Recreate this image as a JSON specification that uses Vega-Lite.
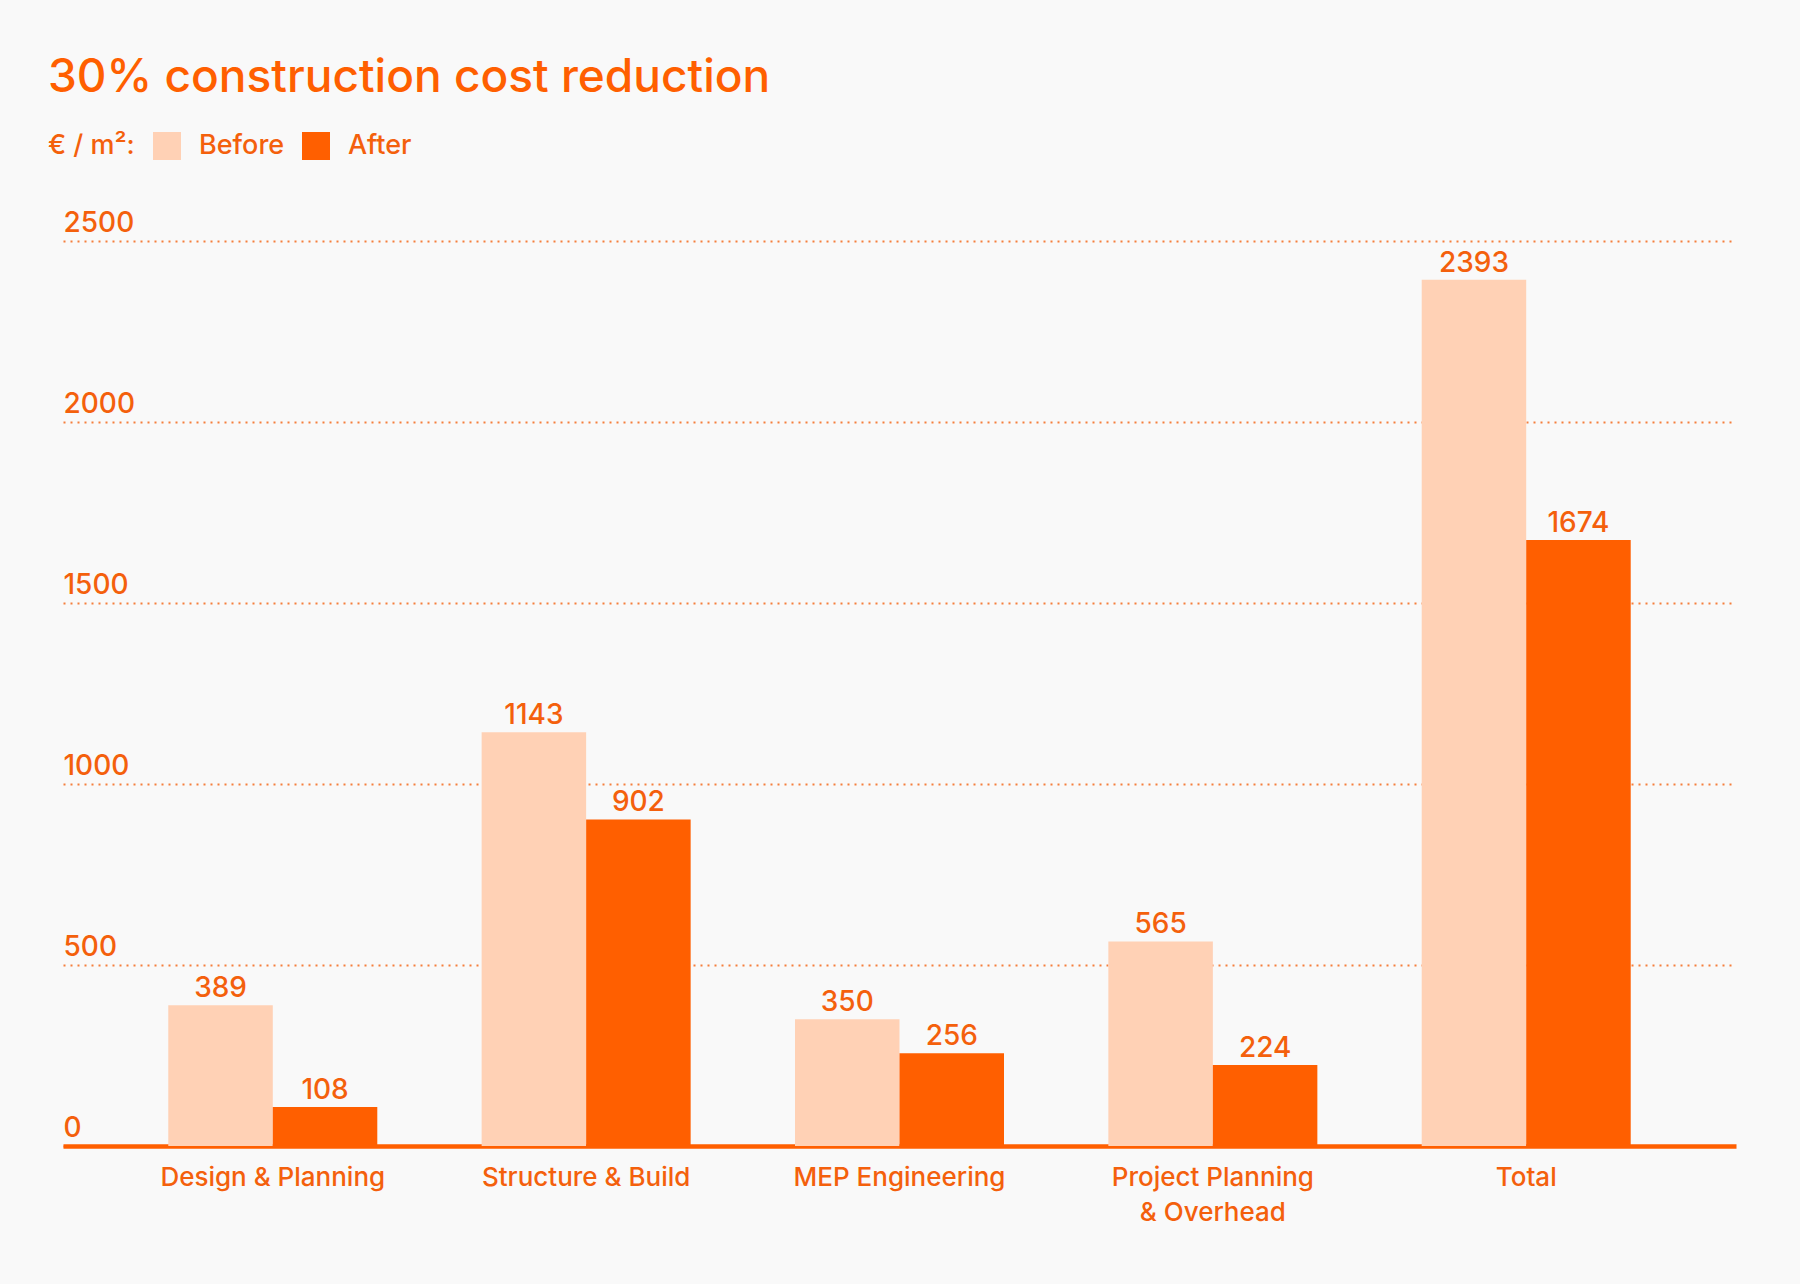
{
  "$schema": "https://vega.github.io/schema/vega-lite/v6.json",
  "width": 1673,
  "height": 905,
  "autosize": {"type": "none"},
  "padding": {"left": 63, "top": 241, "right": 64, "bottom": 138},
  "background": "#f9f9f9",
  "title": {
    "text": "30% construction cost reduction",
    "anchor": "start",
    "frame": "group",
    "font": "Inter",
    "fontSize": 46,
    "fontWeight": 500,
    "color": "#ff5f00",
    "dx": -15,
    "offset": 30
  },
  "config": {
    "view": {"stroke": null},
    "font": "Inter",
    "text": {"font": "Inter"}
  },
  "data": {
    "values": [
      {"category": "Design & Planning", "period": "Before", "value": 389},
      {"category": "Design & Planning", "period": "After", "value": 108},
      {"category": "Structure & Build", "period": "Before", "value": 1143},
      {"category": "Structure & Build", "period": "After", "value": 902},
      {"category": "MEP Engineering", "period": "Before", "value": 350},
      {"category": "MEP Engineering", "period": "After", "value": 256},
      {"category": "Project Planning & Overhead", "period": "Before", "value": 565},
      {"category": "Project Planning & Overhead", "period": "After", "value": 224},
      {"category": "Total", "period": "Before", "value": 2393},
      {"category": "Total", "period": "After", "value": 1674}
    ]
  },
  "encoding": {
    "x": {
      "field": "category",
      "type": "nominal",
      "sort": ["Design & Planning", "Structure & Build", "MEP Engineering", "Project Planning & Overhead", "Total"],
      "scale": {"paddingInner": 0.333, "paddingOuter": 0.336},
      "axis": {
        "title": null,
        "labelAngle": 0,
        "labelLimit": 0,
        "labelFont": "Inter",
        "labelFontSize": 26,
        "labelFontWeight": 500,
        "labelColor": "#f4600c",
        "labelPadding": 18,
        "labelLineHeight": 35,
        "labelExpr": "datum.label == 'Project Planning & Overhead' ? ['Project Planning', '& Overhead'] : datum.label",
        "ticks": false,
        "tickSize": 0,
        "domainColor": "#ff5f00",
        "domainWidth": 4.5,
        "grid": false
      }
    },
    "xOffset": {
      "field": "period",
      "type": "nominal",
      "sort": ["Before", "After"],
      "scale": {"paddingInner": 0, "paddingOuter": 0}
    },
    "y": {
      "field": "value",
      "type": "quantitative",
      "scale": {"domain": [0, 2500], "nice": false},
      "axis": {
        "title": null,
        "values": [0, 500, 1000, 1500, 2000, 2500],
        "format": "d",
        "domain": false,
        "ticks": false,
        "tickSize": 0,
        "labelAlign": "left",
        "labelBaseline": "alphabetic",
        "labelPadding": 0,
        "labelOffset": -10,
        "labelFont": "Inter",
        "labelFontSize": 28,
        "labelFontWeight": 500,
        "labelColor": "#f4600c",
        "grid": true,
        "gridColor": "#f4600c",
        "gridDash": [2, 5],
        "gridWidth": 2,
        "gridOpacity": 0.8
      }
    }
  },
  "layer": [
    {
      "mark": {"type": "bar", "cornerRadius": 0},
      "encoding": {
        "color": {
          "field": "period",
          "type": "nominal",
          "scale": {"domain": ["Before", "After"], "range": ["#ffd1b5", "#ff5f00"]},
          "legend": {
            "title": "€ / m²:",
            "orient": "none",
            "legendX": -15,
            "legendY": -109,
            "direction": "horizontal",
            "titleOrient": "left",
            "titleFont": "Inter",
            "titleFontSize": 27,
            "titleFontWeight": 500,
            "titleColor": "#f4600c",
            "titlePadding": 18,
            "labelFont": "Inter",
            "labelFontSize": 27,
            "labelFontWeight": 500,
            "labelColor": "#f4600c",
            "labelOffset": 18,
            "columnPadding": 17,
            "symbolType": "square",
            "symbolSize": 784,
            "symbolStrokeWidth": 0,
            "symbolOpacity": 1
          }
        }
      }
    },
    {
      "mark": {
        "type": "text",
        "baseline": "alphabetic",
        "dy": -8,
        "font": "Inter",
        "fontSize": 28,
        "fontWeight": 500,
        "color": "#f4600c"
      },
      "encoding": {
        "text": {"field": "value", "type": "quantitative"}
      }
    }
  ]
}
